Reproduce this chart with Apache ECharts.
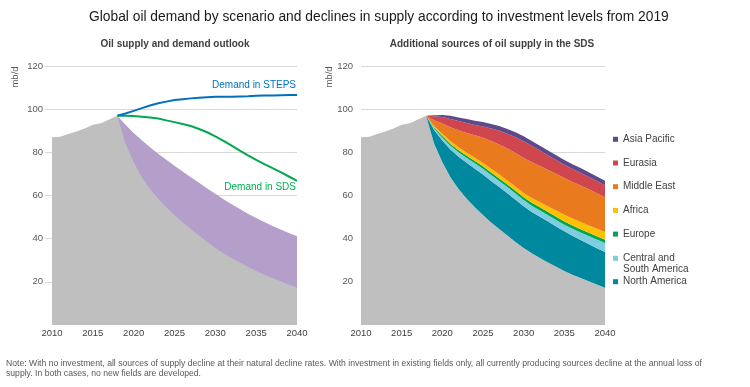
<!DOCTYPE html>
<html>
<head>
<meta charset="utf-8">
<script src="https://cdn.jsdelivr.net/npm/echarts@6/dist/echarts.min.js"></script>
<style>
html,body{margin:0;padding:0;background:#ffffff;}
#chart{width:750px;height:387px;}
</style>
</head>
<body>
<div id="chart"></div>
<script>
// ---------- data (mb/d) ----------
const years = ['2010','2011','2012','2013','2014','2015','2016','2017','2018','2019','2020',
  '2021','2022','2023','2024','2025','2026','2027','2028','2029','2030',
  '2031','2032','2033','2034','2035','2036','2037','2038','2039','2040'];

const yTicks = [20, 40, 60, 80, 100, 120];

// Supply with no new investment (history to 2018, then natural decline)
const noInvestment = [87, 87.2, 88.5, 89.6, 91, 92.8, 93.5, 95.2, 97,
  84, 75.5, 68.5, 63, 58.5, 54.5, 51, 47.5, 44.5, 41.5, 38.5, 35.7,
  33.2, 31, 29, 27, 25, 23.3, 21.8, 20.3, 18.8, 17.3];

// Supply with investment in existing fields
const withInvestment = [null, null, null, null, null, null, null, null, 97,
  92.8, 89, 85.6, 82.4, 79.4, 76.6, 73.8, 71.1, 68.5, 65.9, 63.3, 60.8,
  58.3, 55.9, 53.7, 51.6, 49.6, 47.7, 45.9, 44.2, 42.6, 41.1];

const demandSTEPS = [null, null, null, null, null, null, null, null, 97,
  98, 99.2, 100.5, 101.7, 102.7, 103.5, 104.2, 104.6, 105, 105.3, 105.5, 105.7,
  105.8, 105.8, 105.9, 106, 106.2, 106.3, 106.3, 106.5, 106.6, 106.6];

const demandSDS = [null, null, null, null, null, null, null, null, 97,
  97, 96.8, 96.5, 96.1, 95.7, 94.8, 94, 93.1, 92.2, 90.8, 89.3, 87.4,
  85.3, 83.1, 80.8, 78.6, 76.5, 74.5, 72.7, 70.8, 68.8, 66.8];

// Additional sources of supply in the SDS (layer thickness)
const northAmerica = [null, null, null, null, null, null, null, null, 0,
  6.3, 10, 12.8, 15, 16.7, 17.9, 18.7, 19.2, 19.4, 19.5, 19.5, 19.3,
  19.1, 19.1, 18.9, 18.6, 18.4, 18.0, 17.6, 17.2, 16.8, 16.5];
const centralSouthAmerica = [null, null, null, null, null, null, null, null, 0,
  0.8, 1.3, 1.7, 2.0, 2.2, 2.5, 2.7, 2.8, 2.8, 2.9, 2.9, 2.9,
  3.0, 3.0, 3.0, 3.1, 3.1, 3.3, 3.5, 3.7, 4.0, 4.2];
const europe = [null, null, null, null, null, null, null, null, 0,
  0.4, 0.8, 0.9, 1.0, 1.0, 1.1, 1.1, 1.2, 1.2, 1.2, 1.3, 1.3,
  1.3, 1.4, 1.4, 1.5, 1.5, 1.5, 1.5, 1.5, 1.5, 1.5];
const africa = [null, null, null, null, null, null, null, null, 0,
  0.6, 1.0, 1.2, 1.3, 1.4, 1.5, 1.6, 1.7, 1.8, 1.9, 1.9, 2.0,
  2.2, 2.4, 2.6, 2.9, 3.1, 3.2, 3.3, 3.4, 3.5, 3.6];
const middleEast = [null, null, null, null, null, null, null, null, 0,
  2.8, 4.8, 6.5, 7.9, 9.2, 10.4, 11.6, 12.8, 13.9, 14.8, 15.6, 16.2,
  16.6, 16.8, 16.9, 17.0, 17.0, 17.0, 16.9, 16.8, 16.5, 16.1];
const eurasia = [null, null, null, null, null, null, null, null, 0,
  1.8, 3.0, 3.9, 4.3, 4.6, 4.8, 5.3, 5.8, 6.4, 6.8, 7.3, 7.7,
  7.6, 7.1, 6.7, 6.3, 6.2, 6.0, 5.9, 5.7, 5.6, 5.5];
const asiaPacific = [null, null, null, null, null, null, null, null, 0,
  0.5, 0.9, 1.4, 1.6, 1.8, 1.9, 2.0, 2.1, 2.2, 2.2, 2.3, 2.3,
  2.3, 2.3, 2.3, 2.2, 2.2, 2.2, 2.2, 2.2, 2.1, 2.1];

const regionNames = ['North America', 'Central and\nSouth America', 'Europe', 'Africa',
  'Middle East', 'Eurasia', 'Asia Pacific'];
const regionData = [northAmerica, centralSouthAmerica, europe, africa, middleEast, eurasia, asiaPacific];
const regionColors = ['#00889E', '#7ECDE0', '#00A651', '#FFC000', '#E97B1E', '#D0464E', '#5E4A8A'];

// ---------- chart ----------
const FONT = '"Liberation Sans", Arial, sans-serif';
const GRAY = '#BFBFBF';
const chart = echarts.init(document.getElementById('chart'), null, {renderer: 'canvas'});

function yAxisVisible(gridIndex, margin) {
  return {
    type: 'value', gridIndex: gridIndex, min: 0, max: 120, interval: 20,
    axisLine: {show: false}, axisTick: {show: false},
    axisLabel: {
      margin: margin, fontSize: 9.5, color: '#595959', fontFamily: FONT,
      formatter: function (v) { return yTicks.indexOf(v) >= 0 ? String(v) : ''; }
    },
    splitLine: {show: true, showMinLine: false, lineStyle: {color: '#D9D9D9', width: 1}}
  };
}
function xAxisCat(gridIndex) {
  return {
    type: 'category', gridIndex: gridIndex, data: years, boundaryGap: false,
    axisLine: {show: false}, axisTick: {show: false}, splitLine: {show: false},
    axisLabel: {interval: 4, margin: 3, fontSize: 9.5, color: '#404040', fontFamily: FONT}
  };
}

const series = [];
// Left chart
series.push({
  name: 'Supply with investment in existing fields', type: 'line',
  xAxisIndex: 1, yAxisIndex: 1, data: withInvestment,
  showSymbol: false, symbol: 'none', lineStyle: {width: 0},
  areaStyle: {color: '#B39FCA', opacity: 1}, color: '#B39FCA', silent: true
});
series.push({
  name: 'Supply with no new investment', type: 'line',
  xAxisIndex: 1, yAxisIndex: 1, data: noInvestment,
  showSymbol: false, symbol: 'none', lineStyle: {width: 0},
  areaStyle: {color: GRAY, opacity: 1}, color: GRAY, silent: true
});
series.push({
  name: 'Demand in SDS', type: 'line', xAxisIndex: 1, yAxisIndex: 1, data: demandSDS,
  showSymbol: false, symbol: 'none', color: '#00A850',
  lineStyle: {width: 2, color: '#00A850'}, silent: true
});
series.push({
  name: 'Demand in STEPS', type: 'line', xAxisIndex: 1, yAxisIndex: 1, data: demandSTEPS,
  showSymbol: false, symbol: 'none', color: '#0070C0',
  lineStyle: {width: 2, color: '#0070C0'}, silent: true
});
// Right chart
series.push({
  name: 'No new investment', type: 'line', xAxisIndex: 2, yAxisIndex: 2, stack: 'sds',
  data: noInvestment, showSymbol: false, symbol: 'none', lineStyle: {width: 0},
  areaStyle: {color: GRAY, opacity: 1}, color: GRAY, silent: true
});
regionNames.forEach(function (n, i) {
  series.push({
    name: n, type: 'line', xAxisIndex: 2, yAxisIndex: 2, stack: 'sds',
    data: regionData[i], showSymbol: false, symbol: 'none', lineStyle: {width: 0},
    areaStyle: {color: regionColors[i], opacity: 1}, color: regionColors[i],
    itemStyle: {color: regionColors[i]}, silent: true
  });
});

function txt(x, y, text, opts) {
  return {
    type: 'text', x: x, y: y, silent: true, rotation: opts.rotation || 0,
    style: {
      text: text, fill: opts.color || '#404040', fontSize: opts.size || 10,
      fontWeight: opts.weight || 'normal', fontFamily: FONT,
      align: opts.align || 'left', verticalAlign: opts.valign || 'middle',
      lineHeight: opts.lh || null
    }
  };
}

const legendCommon = {
  orient: 'vertical', left: 613, padding: 0, itemWidth: 5, itemHeight: 5,
  itemGap: 11.7, selectedMode: false, icon: 'rect',
  itemStyle: {borderWidth: 0},
  textStyle: {fontSize: 10, color: '#404040', fontFamily: FONT, lineHeight: 12}
};

const option = {
  animation: false,
  backgroundColor: '#ffffff',
  textStyle: {fontFamily: FONT},
  grid: [
    {left: 45, right: 453, top: 66, bottom: 62},
    {left: 52, right: 453, top: 66, bottom: 62},
    {left: 361, right: 145, top: 66, bottom: 62}
  ],
  xAxis: [
    {type: 'value', gridIndex: 0, min: 0, max: 1, show: false},
    xAxisCat(1),
    xAxisCat(2)
  ],
  yAxis: [
    yAxisVisible(0, 2),
    {type: 'value', gridIndex: 1, min: 0, max: 120, interval: 20, show: false},
    yAxisVisible(2, 8)
  ],
  legend: [
    Object.assign({}, legendCommon, {top: 133.3,
      data: ['Asia Pacific', 'Eurasia', 'Middle East', 'Africa', 'Europe']}),
    Object.assign({}, legendCommon, {top: 252.8, itemHeight: 16,
      icon: 'path://M0 0L5 0L5 5L0 5Z M0 16L0 16',
      textStyle: {fontSize: 10, color: '#404040', fontFamily: FONT, lineHeight: 11},
      data: ['Central and\nSouth America']}),
    Object.assign({}, legendCommon, {top: 275.7, data: ['North America']})
  ],
  series: series,
  graphic: [
    txt(89, 17, 'Global oil demand by scenario and declines in supply according to investment levels from 2019',
      {size: 13.8, color: '#1A1A1A'}),
    txt(175, 44, 'Oil supply and demand outlook', {size: 10, weight: 'bold', align: 'center'}),
    txt(492, 44, 'Additional sources of oil supply in the SDS', {size: 10, weight: 'bold', align: 'center'}),
    txt(15, 77, 'mb/d', {size: 9.5, color: '#595959', align: 'center', rotation: Math.PI / 2}),
    txt(329, 77, 'mb/d', {size: 9.5, color: '#595959', align: 'center', rotation: Math.PI / 2}),
    txt(296, 85, 'Demand in STEPS', {size: 10, color: '#0070C0', align: 'right'}),
    txt(296, 187.7, 'Demand in SDS', {size: 10, color: '#00B050', align: 'right'}),
    txt(296, 259.2, 'Supply with\ninvestment\nin exisiting\nfields', {size: 10, color: '#FFFFFF', align: 'right', lh: 11.3}),
    txt(296, 313.3, 'Supply with no new investment', {size: 10, color: '#F2F2F2', align: 'right'}),
    txt(604, 313.3, 'Supply with no new investment', {size: 10, color: '#F2F2F2', align: 'right'}),
    txt(6, 363.3, 'Note: With no investment, all sources of supply decline at their natural decline rates. With investment in existing fields only, all currently producing sources decline at the annual loss of',
      {size: 8.65, color: '#595959'}),
    txt(6, 374, 'supply. In both cases, no new fields are developed.', {size: 8.65, color: '#595959'})
  ]
};
chart.setOption(option);
</script>
</body>
</html>
